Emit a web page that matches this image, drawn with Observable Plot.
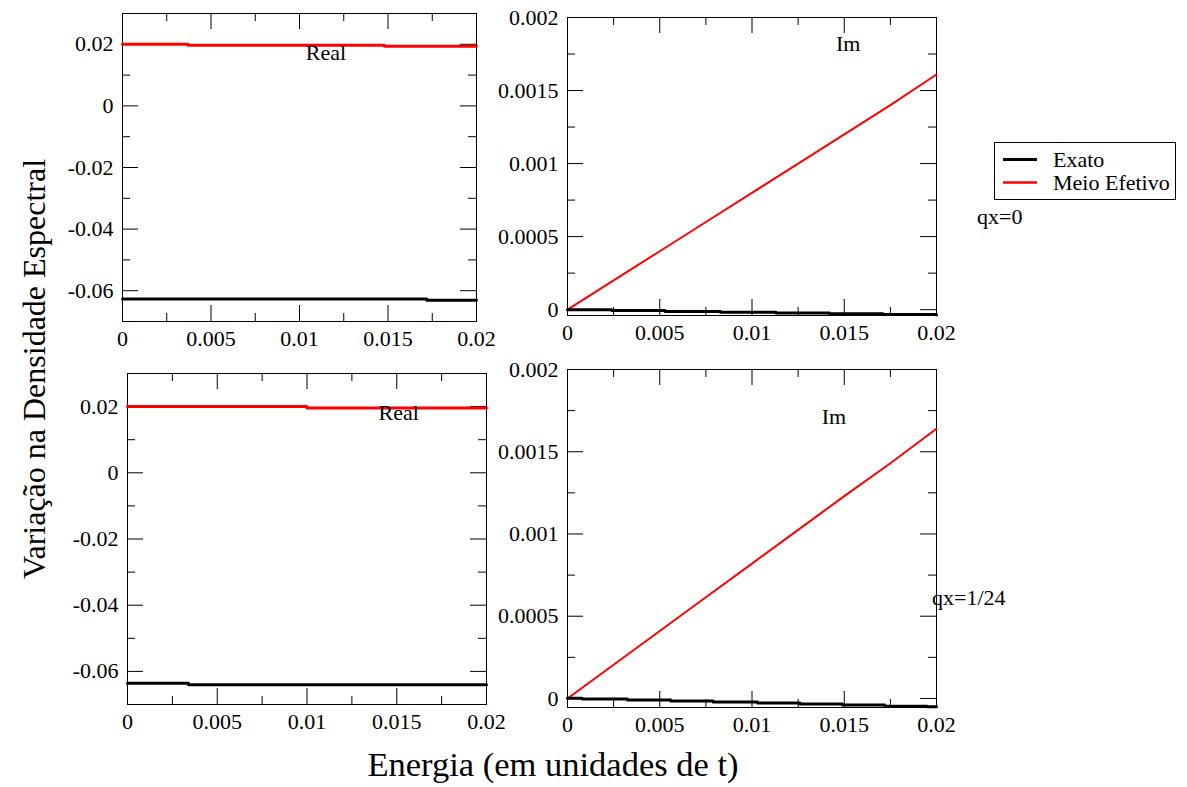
<!DOCTYPE html>
<html>
<head>
<meta charset="utf-8">
<script src="https://cdn.jsdelivr.net/npm/d3@7"></script>
<script src="https://cdn.jsdelivr.net/npm/@observablehq/plot@0.6"></script>
<style>
  body { margin: 0; background: #fff; }
  #fig { position: relative; width: 1187px; height: 787px; overflow: hidden; background: #fff;
         font-family: "Liberation Serif", "Times New Roman", serif; color: #000; }
  #fig svg.panel { position: absolute; overflow: visible; }
  #fig svg text { font-family: "Liberation Serif", "Times New Roman", serif !important; }
  #overlay { position: absolute; left: 0; top: 0; pointer-events: none; }
</style>
</head>
<body>
<div id="fig"></div>
<script>
// Energy axis (units of t)
const energyTicks = [0, 0.005, 0.01, 0.015, 0.02];
const energyMinor = [0.0025, 0.0075, 0.0125, 0.0175];
// Real-part axis
const realTicks = [-0.06, -0.04, -0.02, 0, 0.02];
const realMinor = [-0.05, -0.03, -0.01, 0.01];
// Imaginary-part axis
const imTicks = [0, 0.0005, 0.001, 0.0015, 0.002];
const imMinor = [0.00025, 0.00075, 0.00125, 0.00175];

// qx = 0, real part (step curves: energy breakpoints and values)
const q0RealExatoE = [0, 0.0172, 0.02];
const q0RealExato  = [-0.0627, -0.0631, -0.0631];
const q0RealMeioE  = [0, 0.0037, 0.0148, 0.02];
const q0RealMeio   = [0.0200, 0.0197, 0.0194, 0.0194];
// qx = 0, imaginary part
const q0ImExatoE = [0, 0.0024, 0.0053, 0.0083, 0.0113, 0.0142, 0.0171, 0.02];
const q0ImExato  = [0, -0.000006, -0.000012, -0.000018, -0.000023, -0.000028, -0.000033, -0.000036];
const q0ImMeioE  = [0, 0.0025, 0.005, 0.0075, 0.01, 0.0125, 0.015, 0.0175, 0.02];
const q0ImMeio   = [0, 0.0002, 0.0004, 0.0006, 0.0008, 0.001, 0.0012, 0.0014, 0.00161];

// qx = 1/24, real part
const q24RealExatoE = [0, 0.0034, 0.02];
const q24RealExato  = [-0.0636, -0.0640, -0.0640];
const q24RealMeioE  = [0, 0.0100, 0.02];
const q24RealMeio   = [0.0200, 0.0196, 0.0196];
// qx = 1/24, imaginary part
const q24ImExatoE = [0, 0.0008, 0.00325, 0.0056, 0.0079, 0.0103, 0.0126, 0.0149, 0.0172, 0.0195, 0.02];
const q24ImExato  = [0.000002, -0.000004, -0.00001, -0.000016, -0.000022, -0.000028, -0.000034, -0.00004, -0.000047, -0.000051, -0.000051];
const q24ImMeioE  = [0, 0.0025, 0.005, 0.0075, 0.01, 0.0125, 0.015, 0.0175, 0.02];
const q24ImMeio   = [0, 0.000205, 0.00041, 0.000615, 0.00082, 0.001025, 0.00123, 0.00143, 0.00164];

const seriesNames = ["Exato", "Meio Efetivo"];
const seriesColors = ["#000000", "#ff0000"];

const FONT = '"Liberation Serif", "Times New Roman", serif';
const fig = document.getElementById("fig");
const fmt = d => String(d);

function panel({box, yDomain, yMajor, yMinorTicks, exato, meio, meioWidth, label}) {
  const m = {left: 100, right: 20, top: 16, bottom: 44};
  const w = box.w, h = box.h;
  const MAJ = 16, MIN = 8;
  const ink = "#000";
  const svg = Plot.plot({
    width: w + m.left + m.right,
    height: h + m.top + m.bottom,
    marginLeft: m.left, marginRight: m.right, marginTop: m.top, marginBottom: m.bottom,
    style: {fontFamily: FONT, fontSize: "22px", color: "#000", background: "transparent", overflow: "visible"},
    x: {domain: [0, 0.02], ticks: energyTicks, tickSize: 0, tickPadding: 9, tickFormat: fmt, label: null},
    y: {domain: yDomain, ticks: yMajor, tickSize: 0, tickPadding: 9, tickFormat: fmt, label: null},
    marks: [
      // inward ticks on all four sides
      Plot.tickY(yMajor, {y: d => d, insetRight: w - MAJ, stroke: ink}),
      Plot.tickY(yMajor, {y: d => d, insetLeft: w - MAJ, stroke: ink}),
      Plot.tickY(yMinorTicks, {y: d => d, insetRight: w - MIN, stroke: ink}),
      Plot.tickY(yMinorTicks, {y: d => d, insetLeft: w - MIN, stroke: ink}),
      Plot.tickX(energyTicks, {x: d => d, insetTop: h - MAJ, stroke: ink}),
      Plot.tickX(energyTicks, {x: d => d, insetBottom: h - MAJ, stroke: ink}),
      Plot.tickX(energyMinor, {x: d => d, insetTop: h - MIN, stroke: ink}),
      Plot.tickX(energyMinor, {x: d => d, insetBottom: h - MIN, stroke: ink}),
      Plot.frame({stroke: ink, strokeWidth: 1}),
      Plot.line(meio.y, {x: meio.x, y: meio.y, curve: meio.curve, stroke: seriesColors[1], strokeWidth: meioWidth}),
      Plot.line(exato.y, {x: exato.x, y: exato.y, curve: "step-after", stroke: seriesColors[0], strokeWidth: 3}),
      Plot.text([label], {x: "x", y: "y", text: "text", fontSize: 22, fill: "#000"})
    ]
  });
  svg.classList.add("panel");
  svg.style.left = (box.x - m.left) + "px";
  svg.style.top = (box.y - m.top) + "px";
  fig.appendChild(svg);
}

// qx = 0
panel({
  box: {x: 122, y: 13, w: 354, h: 308},
  yDomain: [-0.07, 0.03], yMajor: realTicks, yMinorTicks: realMinor,
  exato: {x: q0RealExatoE, y: q0RealExato},
  meio: {x: q0RealMeioE, y: q0RealMeio, curve: "step-after"}, meioWidth: 3,
  label: {x: 0.01149, y: 0.01735, text: "Real"}
});
panel({
  box: {x: 567, y: 17, w: 369, h: 298},
  yDomain: [-0.00004, 0.002], yMajor: imTicks, yMinorTicks: imMinor,
  exato: {x: q0ImExatoE, y: q0ImExato},
  meio: {x: q0ImMeioE, y: q0ImMeio, curve: "linear"}, meioWidth: 2,
  label: {x: 0.01521, y: 0.00182, text: "Im"}
});
// qx = 1/24
panel({
  box: {x: 127, y: 373, w: 359, h: 331},
  yDomain: [-0.07, 0.03], yMajor: realTicks, yMinorTicks: realMinor,
  exato: {x: q24RealExatoE, y: q24RealExato},
  meio: {x: q24RealMeioE, y: q24RealMeio, curve: "step-after"}, meioWidth: 3,
  label: {x: 0.01511, y: 0.01798, text: "Real"}
});
panel({
  box: {x: 567, y: 369, w: 369, h: 338},
  yDomain: [-0.000055, 0.002], yMajor: imTicks, yMinorTicks: imMinor,
  exato: {x: q24ImExatoE, y: q24ImExato},
  meio: {x: q24ImMeioE, y: q24ImMeio, curve: "linear"}, meioWidth: 2,
  label: {x: 0.01444, y: 0.00171, text: "Im"}
});

// Shared titles, legend and panel notes
const ov = d3.select(fig).append("svg")
  .attr("id", "overlay").attr("width", 1187).attr("height", 787)
  .style("font-family", FONT);

ov.append("text")
  .attr("transform", "translate(45,369) rotate(-90)")
  .attr("text-anchor", "middle").attr("font-size", 32)
  .text("Variação na Densidade Espectral");
ov.append("text")
  .attr("x", 553).attr("y", 776)
  .attr("text-anchor", "middle").attr("font-size", 34.5)
  .text("Energia (em unidades de t)");

const lg = ov.append("g");
lg.append("rect").attr("x", 994.5).attr("y", 142.5).attr("width", 181).attr("height", 57)
  .attr("fill", "#fff").attr("stroke", "#000").attr("stroke-width", 1);
seriesNames.forEach((name, i) => {
  const yy = 159.5 + i * 23;
  lg.append("line").attr("x1", 1003).attr("x2", 1037).attr("y1", yy).attr("y2", yy)
    .attr("stroke", seriesColors[i]).attr("stroke-width", i === 0 ? 3 : 2.5);
  lg.append("text").attr("x", 1053).attr("y", yy + 7).attr("font-size", 22).text(name);
});

ov.append("text").attr("x", 977).attr("y", 224).attr("font-size", 22).text("qx=0");
ov.append("text").attr("x", 932).attr("y", 605).attr("font-size", 22).text("qx=1/24");
</script>
</body>
</html>
